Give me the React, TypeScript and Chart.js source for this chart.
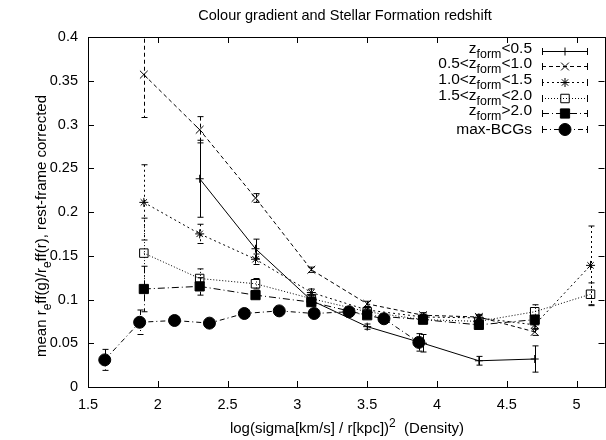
import { useEffect, useRef } from "react";
import { Chart, registerables } from "chart.js";
import { drawPoint } from "chart.js/helpers";

Chart.register(...registerables);

// Formation-redshift bins share the same density abscissae
const zformX = [1.9, 2.3, 2.7, 3.1, 3.5, 3.9, 4.3, 4.7, 5.1];

const zLt05 = [null, 0.238, 0.158, 0.099, 0.069, 0.05, 0.03, 0.032, null];
const zLt05Err = [null, 0.044, 0.011, 0.005, 0.003, 0.01, 0.005, 0.015, null];

const z05to10 = [0.357, 0.294, 0.216, 0.134, 0.095, 0.082, 0.08, 0.063, null];
const z05to10Err = [0.049, 0.015, 0.005, 0.003, 0.003, 0.003, 0.003, 0.004, null];

const z10to15 = [0.211, 0.175, 0.146, 0.108, 0.088, 0.08, 0.079, 0.071, 0.139];
const z10to15Err = [0.043, 0.011, 0.006, 0.004, 0.003, 0.003, 0.003, 0.005, 0.045];

const z15to20 = [0.153, 0.124, 0.118, 0.101, 0.086, 0.077, 0.075, 0.086, 0.106];
const z15to20Err = [0.04, 0.011, 0.006, 0.004, 0.003, 0.003, 0.003, 0.008, 0.013];

const zGt20 = [0.112, 0.115, 0.105, 0.097, 0.082, 0.077, 0.071, 0.077, null];
const zGt20Err = [0.026, 0.01, 0.004, 0.004, 0.003, 0.003, 0.003, 0.005, null];

// max-BCGs comparison sample
const bcgX = [1.62, 1.87, 2.12, 2.37, 2.62, 2.87, 3.12, 3.37, 3.62, 3.87];
const bcgY = [0.031, 0.074, 0.076, 0.073, 0.084, 0.087, 0.084, 0.086, 0.078, 0.051];
const bcgErr = [0.012, 0.014, 0.004, 0.004, 0.004, 0.004, 0.004, 0.004, 0.004, 0.01];

const xTicks = [1.5, 2, 2.5, 3, 3.5, 4, 4.5, 5];
const yTicks = [0, 0.05, 0.1, 0.15, 0.2, 0.25, 0.3, 0.35, 0.4];

const TITLE = "Colour gradient and Stellar Formation redshift";

type Seg = { t: string; k?: "sub" | "sup" };

const xTitle: Seg[] = [
  { t: "log(sigma[km/s] / r[kpc])" },
  { t: "2", k: "sup" },
  { t: "  (Density)" },
];
const yTitle: Seg[] = [
  { t: "mean r" },
  { t: "e", k: "sub" },
  { t: "ff(g)/r" },
  { t: "e", k: "sub" },
  { t: "ff(r), rest-frame corrected" },
];

const legendLabels: Seg[][] = [
  [{ t: "z" }, { t: "form", k: "sub" }, { t: "<0.5" }],
  [{ t: "0.5<z" }, { t: "form", k: "sub" }, { t: "<1.0" }],
  [{ t: "1.0<z" }, { t: "form", k: "sub" }, { t: "<1.5" }],
  [{ t: "1.5<z" }, { t: "form", k: "sub" }, { t: "<2.0" }],
  [{ t: "z" }, { t: "form", k: "sub" }, { t: ">2.0" }],
  [{ t: "max-BCGs" }],
];

const W = 612;
const H = 440;
const FONT = "'Liberation Sans', Arial, Helvetica, sans-serif";

function pts(xs: number[], ys: (number | null)[]) {
  const out: { x: number; y: number }[] = [];
  ys.forEach((v, i) => {
    if (v !== null) out.push({ x: xs[i], y: v });
  });
  return out;
}
function errs(ys: (number | null)[], es: (number | null)[]) {
  const out: number[] = [];
  ys.forEach((v, i) => {
    if (v !== null) out.push(es[i] as number);
  });
  return out;
}

function drawRich(
  ctx: CanvasRenderingContext2D,
  segs: Seg[],
  x: number,
  y: number,
  size: number,
  align: "left" | "right" | "center"
) {
  const small = size * 0.8;
  const widths = segs.map((s) => {
    ctx.font = `${s.k ? small : size}px ${FONT}`;
    return ctx.measureText(s.t).width;
  });
  const total = widths.reduce((a, b) => a + b, 0);
  let cx = align === "left" ? x : align === "right" ? x - total : x - total / 2;
  ctx.textAlign = "left";
  ctx.textBaseline = "alphabetic";
  segs.forEach((s, i) => {
    ctx.font = `${s.k ? small : size}px ${FONT}`;
    const dy = s.k === "sub" ? size * 0.3 : s.k === "sup" ? -size * 0.42 : 0;
    ctx.fillText(s.t, cx, y + dy);
    cx += widths[i];
  });
}

const errorBars = {
  id: "errorBars",
  beforeDatasetsDraw(chart: any) {
    const { ctx, chartArea, scales } = chart;
    const xs = scales.x;
    const ys = scales.y;
    ctx.save();
    ctx.beginPath();
    ctx.rect(chartArea.left, chartArea.top, chartArea.right - chartArea.left, chartArea.bottom - chartArea.top);
    ctx.clip();
    ctx.strokeStyle = "#000";
    ctx.lineWidth = 1;
    chart.data.datasets.forEach((ds: any) => {
      const e: number[] = ds.errors;
      if (!e) return;
      ds.data.forEach((p: { x: number; y: number }, i: number) => {
        const px = Math.round(xs.getPixelForValue(p.x)) + 0.5;
        const yt = ys.getPixelForValue(p.y + e[i]);
        const yb = ys.getPixelForValue(p.y - e[i]);
        ctx.setLineDash(ds.borderDash || []);
        ctx.beginPath();
        ctx.moveTo(px, yt);
        ctx.lineTo(px, yb);
        ctx.stroke();
        ctx.setLineDash([]);
        ctx.beginPath();
        ctx.moveTo(px - 3, yt);
        ctx.lineTo(px + 3, yt);
        ctx.moveTo(px - 3, yb);
        ctx.lineTo(px + 3, yb);
        ctx.stroke();
      });
    });
    ctx.restore();
  },
};

const decorations = {
  id: "decorations",
  afterDraw(chart: any) {
    const { ctx, chartArea, scales } = chart;
    const { left, right, top, bottom } = chartArea;
    ctx.save();
    ctx.strokeStyle = "#000";
    ctx.lineWidth = 1;
    ctx.setLineDash([]);
    // frame with inward ticks on all sides
    ctx.strokeRect(Math.round(left) + 0.5, Math.round(top) + 0.5, Math.round(right - left), Math.round(bottom - top));
    const tl = 6;
    ctx.beginPath();
    xTicks.forEach((v) => {
      const px = Math.round(scales.x.getPixelForValue(v)) + 0.5;
      ctx.moveTo(px, bottom);
      ctx.lineTo(px, bottom - tl);
      ctx.moveTo(px, top);
      ctx.lineTo(px, top + tl);
    });
    yTicks.forEach((v) => {
      const py = Math.round(scales.y.getPixelForValue(v)) + 0.5;
      ctx.moveTo(left, py);
      ctx.lineTo(left + tl, py);
      ctx.moveTo(right, py);
      ctx.lineTo(right - tl, py);
    });
    ctx.stroke();

    ctx.fillStyle = "#000";
    // title
    ctx.font = `14.5px ${FONT}`;
    ctx.textAlign = "center";
    ctx.textBaseline = "alphabetic";
    ctx.fillText(TITLE, 345, 20);

    // axis titles
    drawRich(ctx, xTitle, 347, 433, 15, "center");
    ctx.save();
    ctx.translate(46, 226);
    ctx.rotate(-Math.PI / 2);
    drawRich(ctx, yTitle, 0, 0, 15, "center");
    ctx.restore();

    // key
    const rowY = [51, 66, 82, 98, 113, 129];
    chart.data.datasets.forEach((ds: any, i: number) => {
      const y = rowY[i];
      const base = i === 5 ? y + 5 : y + 2;
      ctx.fillStyle = "#000";
      drawRich(ctx, legendLabels[i], 532, base, 15.5, "right");
      const x0 = 542;
      const x1 = 588;
      ctx.setLineDash(ds.borderDash || []);
      ctx.beginPath();
      ctx.moveTo(x0, y + 0.5);
      ctx.lineTo(x1, y + 0.5);
      ctx.stroke();
      ctx.setLineDash([]);
      ctx.beginPath();
      ctx.moveTo(x0 + 0.5, y - 3);
      ctx.lineTo(x0 + 0.5, y + 4);
      ctx.moveTo(x1 - 0.5, y - 3);
      ctx.lineTo(x1 - 0.5, y + 4);
      ctx.stroke();
      ctx.fillStyle = ds.pointBackgroundColor;
      ctx.strokeStyle = "#000";
      drawPoint(ctx, { pointStyle: ds.pointStyle, radius: ds.pointRadius, rotation: 0, borderWidth: 1 }, 565, y + 0.5);
    });
    ctx.restore();
  },
};

function series(label: string, xs: number[], ys: (number | null)[], es: (number | null)[], style: any) {
  return {
    label,
    data: pts(xs, ys),
    errors: errs(ys, es),
    showLine: true,
    borderColor: "#000",
    borderWidth: 1,
    pointBorderColor: "#000",
    pointBorderWidth: 1,
    ...style,
  };
}

const plainNumber = (v: number | string) => String(Math.round(Number(v) * 1000) / 1000);

export default function App() {
  const ref = useRef<HTMLCanvasElement>(null);

  useEffect(() => {
    const datasets: any[] = [
      series("zform<0.5", zformX, zLt05, zLt05Err, {
        borderDash: [],
        pointStyle: "cross",
        pointRadius: 4,
        pointBackgroundColor: "#000",
      }),
      series("0.5<zform<1.0", zformX, z05to10, z05to10Err, {
        borderDash: [4, 3],
        pointStyle: "crossRot",
        pointRadius: 5.5,
        pointBackgroundColor: "#000",
      }),
      series("1.0<zform<1.5", zformX, z10to15, z10to15Err, {
        borderDash: [2, 3],
        pointStyle: "star",
        pointRadius: 4.5,
        pointBackgroundColor: "#000",
      }),
      series("1.5<zform<2.0", zformX, z15to20, z15to20Err, {
        borderDash: [1, 2],
        pointStyle: "rect",
        pointRadius: 6,
        pointBackgroundColor: "rgba(0,0,0,0)",
      }),
      series("zform>2.0", zformX, zGt20, zGt20Err, {
        borderDash: [7, 3, 1, 3],
        pointStyle: "rect",
        pointRadius: 6.5,
        pointBackgroundColor: "#000",
      }),
      series("max-BCGs", bcgX, bcgY, bcgErr, {
        borderDash: [5, 3, 1, 3],
        pointStyle: "circle",
        pointRadius: 6,
        pointBackgroundColor: "#000",
      }),
    ];

    const chart = new Chart(ref.current as HTMLCanvasElement, {
      type: "scatter",
      data: { datasets },
      options: {
        animation: false,
        responsive: false,
        devicePixelRatio: 1,
        layout: { padding: { left: 0, right: 4, top: 37, bottom: 0 } },
        plugins: {
          legend: { display: false },
          title: { display: false },
          tooltip: { enabled: false },
        },
        scales: {
          x: {
            type: "linear",
            min: 1.5,
            max: 5.2,
            grid: { display: false, drawTicks: false },
            border: { display: false },
            ticks: {
              color: "#000",
              padding: 9,
              font: { size: 14.5, family: FONT },
              callback: plainNumber,
            },
            afterBuildTicks: (s: any) => {
              s.ticks = xTicks.map((v) => ({ value: v }));
            },
            afterFit: (s: any) => {
              s.height = 53;
            },
          },
          y: {
            type: "linear",
            min: 0,
            max: 0.4,
            grid: { display: false, drawTicks: false },
            border: { display: false },
            ticks: {
              color: "#000",
              padding: 10,
              font: { size: 14.5, family: FONT },
              callback: plainNumber,
            },
            afterBuildTicks: (s: any) => {
              s.ticks = yTicks.map((v) => ({ value: v }));
            },
            afterFit: (s: any) => {
              s.width = 88;
            },
          },
        },
      },
      plugins: [errorBars, decorations],
    } as any);

    return () => chart.destroy();
  }, []);

  return (
    <div style={{ position: "fixed", left: 0, top: 0, width: W, height: H, background: "#fff" }}>
      <canvas ref={ref} width={W} height={H} style={{ display: "block", width: W, height: H }} />
    </div>
  );
}
